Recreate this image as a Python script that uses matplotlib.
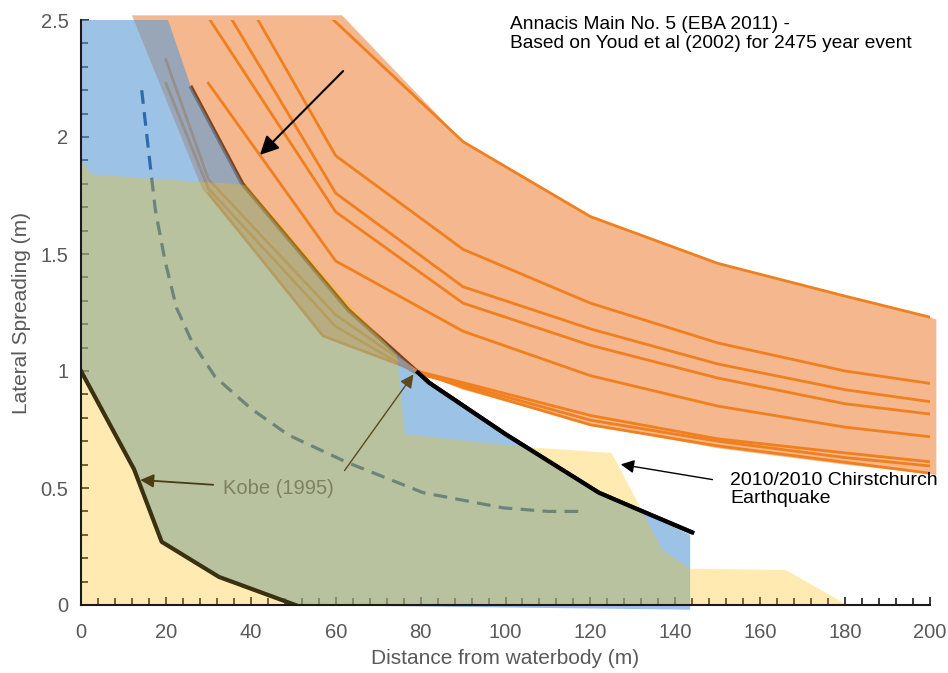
import numpy as np
import matplotlib.pyplot as plt

plt.rcParams['font.family'] = ['Liberation Sans', 'DejaVu Sans']

# Youd et al (2002) curves, Annacis Main No. 5
line1_x = [59.5, 90, 120, 150, 180, 200]
line1_y = [2.5, 1.98, 1.66, 1.46, 1.32, 1.23]
line2_x = [41.7, 60, 90, 120, 150, 180, 200]
line2_y = [2.5, 1.92, 1.52, 1.29, 1.12, 1.00, 0.947]
line3_x = [35.6, 60, 90, 120, 150, 180, 200]
line3_y = [2.5, 1.76, 1.36, 1.18, 1.03, 0.92, 0.869]
line4_x = [30.4, 60, 90, 120, 150, 180, 200]
line4_y = [2.5, 1.68, 1.29, 1.11, 0.97, 0.86, 0.816]
line5_x = [30, 60, 90, 120, 150, 180, 200]
line5_y = [2.23, 1.47, 1.17, 0.98, 0.85, 0.76, 0.719]
line6_x = [20, 30, 60, 79, 90, 120, 150, 180, 200]
line6_y = [2.33, 1.82, 1.24, 1.0, 0.95, 0.81, 0.71, 0.65, 0.612]
line7_x = [20, 30, 60, 79, 90, 120, 150, 180, 200]
line7_y = [2.23, 1.78, 1.19, 0.99, 0.94, 0.79, 0.70, 0.63, 0.594]
line8_x = [30, 57, 79, 90, 120, 150, 180, 200]
line8_y = [1.76, 1.15, 1.0, 0.93, 0.77, 0.68, 0.61, 0.563]
youd_lines = [(line1_x, line1_y), (line2_x, line2_y), (line3_x, line3_y), (line4_x, line4_y),
              (line5_x, line5_y), (line6_x, line6_y), (line7_x, line7_y), (line8_x, line8_y)]

# envelope of the Youd curves
band_x = [12, 61.5, 90, 120, 150, 180, 200, 201.5, 201.5, 200, 180, 150, 120, 90, 78.7, 57, 28.5]
band_y = [2.52, 2.52, 1.98, 1.66, 1.46, 1.32, 1.23, 1.22, 0.555, 0.56, 0.60, 0.67, 0.77, 0.92, 1.0, 1.15, 1.78]

# Christchurch envelope (blue) and observed line (black)
chch_x = [0, 20.5, 26, 38, 63, 79, 82, 100, 122, 131, 143.5, 143.5, 50.5, 32.5, 19, 12.5, 0]
chch_y = [2.5, 2.5, 2.21, 1.80, 1.26, 1.00, 0.95, 0.73, 0.48, 0.41, 0.30, -0.02, 0.0, 0.12, 0.27, 0.58, 1.0]
black_x = np.array([26, 38, 63, 79, 82, 100, 122, 131, 144])
black_y = np.array([2.21, 1.80, 1.26, 1.00, 0.95, 0.73, 0.48, 0.41, 0.31])

# other envelope (yellow)
yel_x = [0, 0, 2.6, 39, 64, 74.4, 76.3, 104.6, 125, 137, 143.5, 166, 180.5]
yel_y = [0, 1.90, 1.84, 1.795, 1.27, 1.07, 0.73, 0.675, 0.65, 0.235, 0.155, 0.15, 0]

# Kobe (1995)
kobe_x = [0, 12.5, 19, 32.5, 50.5]
kobe_y = [1.0, 0.58, 0.27, 0.12, 0.0]
dash_x = [14.3, 16.3, 17.5, 19.8, 22.5, 26, 31.6, 40, 48.9, 62.6, 80.6, 99.5, 110, 119]
dash_y = [2.20, 1.88, 1.69, 1.47, 1.27, 1.13, 0.975, 0.84, 0.726, 0.61, 0.48, 0.415, 0.40, 0.40]

fig = plt.figure(figsize=(9.48, 6.73), dpi=100)
ax = fig.add_axes([81/948, 68/673, 849/948, 585/673])

# black line sits under the fills, only its lower end is drawn again on top
ax.plot(black_x, black_y, color='black', lw=3, zorder=0.5)
ax.fill(band_x, band_y, color='#ED7D31', alpha=0.55, lw=0, zorder=1, clip_on=False)
for lx, ly in youd_lines:
    ax.plot(lx, ly, color='#F07F1E', lw=2.0, zorder=2)
ax.fill(chch_x, chch_y, color='#5B9BD5', alpha=0.6, lw=0, zorder=3, clip_on=False)
ax.plot(dash_x, dash_y, color='#2E6BAE', lw=2.3, dashes=(4.3, 2.6), zorder=3.5)
ax.fill(yel_x, yel_y, color='#FFC000', alpha=0.3, lw=0, zorder=4)
up = black_x >= 79
ax.plot(black_x[up], black_y[up], color='black', lw=3, zorder=5, solid_capstyle='butt')
ax.plot(kobe_x, kobe_y, color='#3B3010', lw=3, zorder=5)

# labels and arrows
ax.text(101, 2.515, 'Annacis Main No. 5 (EBA 2011) -\nBased on Youd et al (2002) for 2475 year event',
        ha='left', va='top', fontsize=13.8, color='black', linespacing=1.1, zorder=6)
ax.annotate('', xy=(41.7, 1.915), xytext=(62.2, 2.29),
            arrowprops=dict(arrowstyle='-|>', color='black', lw=1.5, mutation_scale=28), zorder=6)
ax.text(153, 0.495, '2010/2010 Chirstchurch\nEarthquake', ha='left', va='center',
        fontsize=14, color='black', linespacing=1.1, zorder=6)
ax.annotate('', xy=(126.5, 0.603), xytext=(149.4, 0.534),
            arrowprops=dict(arrowstyle='-|>', color='black', lw=1.0, mutation_scale=20), zorder=6)
ax.text(46.5, 0.50, 'Kobe (1995)', ha='center', va='center', fontsize=14.5, color='#7F7F62', zorder=6)
ax.annotate('', xy=(13.3, 0.535), xytext=(31.8, 0.513),
            arrowprops=dict(arrowstyle='-|>', color='#4D3B14', lw=1.3, mutation_scale=20), zorder=6)
ax.annotate('', xy=(78.7, 0.995), xytext=(61.7, 0.565),
            arrowprops=dict(arrowstyle='-|>', color='#5C4A1E', lw=1.0, mutation_scale=20), zorder=6)

ax.set_xlim(0, 200)
ax.set_ylim(0, 2.5)
ax.set_xticks(np.arange(0, 201, 20))
ax.set_xticks(np.arange(0, 201, 4), minor=True)
ax.set_yticks([0, 0.5, 1, 1.5, 2, 2.5])
ax.set_yticklabels(['0', '0.5', '1', '1.5', '2', '2.5'])
ax.set_yticks(np.arange(0, 2.51, 0.1), minor=True)
ax.tick_params(which='both', direction='in', color='#1a1a1a', width=1.2, labelsize=14.5,
               labelcolor='#595959')
ax.tick_params(which='major', length=6)
ax.tick_params(which='minor', length=5)
ax.tick_params(axis='x', pad=13)
ax.tick_params(axis='y', pad=9)
for s in ['top', 'right']:
    ax.spines[s].set_visible(False)
for s in ['left', 'bottom']:
    ax.spines[s].set_color('#1a1a1a')
    ax.spines[s].set_linewidth(1.5)
    ax.spines[s].set_zorder(7)
ax.set_xlabel('Distance from waterbody (m)', fontsize=15, color='#595959', labelpad=5)
ax.set_ylabel('Lateral Spreading (m)', fontsize=15, color='#595959', labelpad=7)
ax.patch.set_alpha(0)

fig.savefig('out.png', dpi=100)
